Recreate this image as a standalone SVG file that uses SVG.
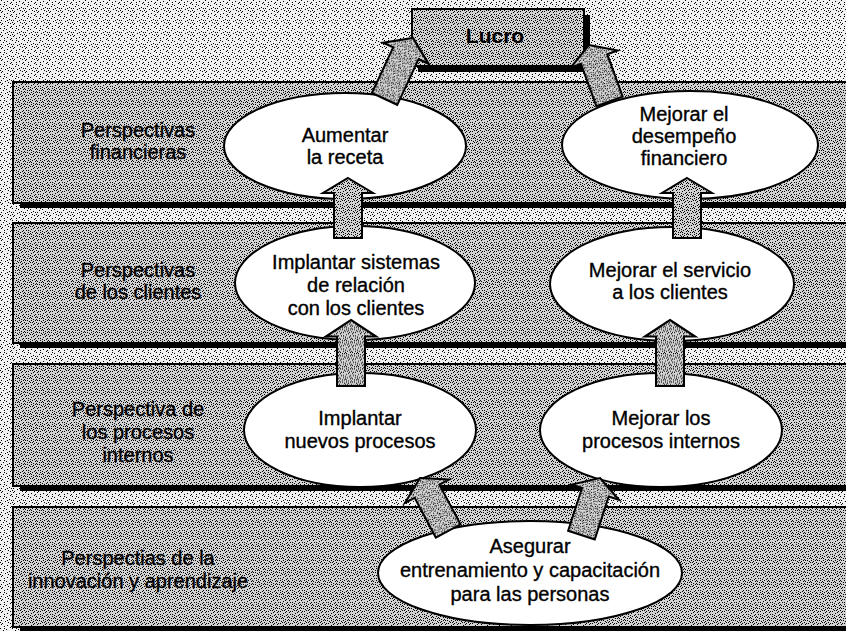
<svg xmlns="http://www.w3.org/2000/svg" width="846" height="631" viewBox="0 0 846 631">
<style>
.panel{fill:url(#dotsPanel);stroke:#000;stroke-width:2}
.shadow{fill:#000}
.node{fill:#fff;stroke:#000;stroke-width:2}
.arrow{fill:url(#dotsPanel);stroke:#000;stroke-width:2;stroke-linejoin:miter}
text{font-family:"Liberation Sans",Arial,sans-serif;font-size:20px;fill:#000;stroke:#000;stroke-width:0.35;text-anchor:middle}
.title{font-weight:bold;font-size:21px;stroke-width:0}
</style>
<defs>
<pattern id="dotsBg" width="12" height="12" patternUnits="userSpaceOnUse">
<rect width="12" height="12" fill="#f0f0f0"/>
<path fill="#000" d="M1 0h1v1h-1z M7 1h1v1h-1z M4 2h1v1h-1z M10 3h1v1h-1z M0 4h1v1h-1z M6 5h1v1h-1z M3 6h1v1h-1z M9 7h1v1h-1z M1 8h1v1h-1z M11 8h1v1h-1z M5 9h1v1h-1z M8 10h1v1h-1z M2 11h1v1h-1z M10 11h1v1h-1z M4 4h1v1h-1z M7 8h1v1h-1z M0 10h1v1h-1z M11 2h1v1h-1z"/>
</pattern>
<pattern id="dotsPanel" width="12" height="12" patternUnits="userSpaceOnUse">
<rect width="12" height="12" fill="#d2d2d2"/>
<path fill="#000" d="M1 0h1v1h-1z M7 1h1v1h-1z M4 2h1v1h-1z M10 3h1v1h-1z M0 4h1v1h-1z M6 5h1v1h-1z M3 6h1v1h-1z M9 7h1v1h-1z M1 8h1v1h-1z M11 8h1v1h-1z M5 9h1v1h-1z M8 10h1v1h-1z M2 11h1v1h-1z M10 11h1v1h-1z M4 4h1v1h-1z M7 8h1v1h-1z M0 10h1v1h-1z M11 2h1v1h-1z M9 0h1v1h-1z M2 2h1v1h-1z M6 3h1v1h-1z M8 4h1v1h-1z M1 5h1v1h-1z M11 5h1v1h-1z M5 6h1v1h-1z M7 6h1v1h-1z M0 7h1v1h-1z M3 8h1v1h-1z M9 9h1v1h-1z M6 10h1v1h-1z M4 11h1v1h-1z"/>
</pattern>
<path id="arr" d="M0,0 L25,15 L14,15 L14,60 L-14,60 L-14,15 L-25,15 Z"/>
</defs>
<rect x="0" y="0" width="846" height="631" fill="url(#dotsBg)"/>
<g id="panel-financieras">
<rect class="shadow" x="20" y="87" width="840" height="121"/>
<rect class="panel" x="13" y="82" width="845" height="121"/>
<text x="138" y="137">Perspectivas</text>
<text x="138" y="159">financieras</text>
</g>
<g id="panel-clientes">
<rect class="shadow" x="20" y="228" width="840" height="120"/>
<rect class="panel" x="13" y="223" width="845" height="120"/>
<text x="138" y="277">Perspectivas</text>
<text x="138" y="299">de los clientes</text>
</g>
<g id="panel-procesos">
<rect class="shadow" x="20" y="369" width="840" height="122"/>
<rect class="panel" x="13" y="364" width="845" height="122"/>
<text x="138" y="416">Perspectiva de</text>
<text x="138" y="439">los procesos</text>
<text x="138" y="462">internos</text>
</g>
<g id="panel-innovacion">
<rect class="shadow" x="20" y="512" width="840" height="120"/>
<rect class="panel" x="13" y="507" width="845" height="120"/>
<text x="138" y="565">Perspectias de la</text>
<text x="138" y="588">innovación y aprendizaje</text>
</g>
<g id="lucro">
<rect class="shadow" x="418" y="15" width="172" height="57"/>
<rect class="panel" x="412" y="9" width="172" height="57"/>
<text class="title" x="495" y="43">Lucro</text>
</g>
<g id="aumentar-receta">
<ellipse class="node" cx="345" cy="146" rx="121" ry="53"/>
<text x="345" y="142">Aumentar</text>
<text x="345" y="164">la receta</text>
</g>
<g id="mejorar-desempeno">
<ellipse class="node" cx="690" cy="145" rx="128" ry="54"/>
<text x="684" y="121">Mejorar el</text>
<text x="684" y="143">desempeño</text>
<text x="684" y="165">financiero</text>
</g>
<g id="implantar-sistemas">
<ellipse class="node" cx="355" cy="283" rx="120" ry="57"/>
<text x="356" y="269">Implantar sistemas</text>
<text x="356" y="292">de relación</text>
<text x="356" y="315">con los clientes</text>
</g>
<g id="mejorar-servicio">
<ellipse class="node" cx="672" cy="284" rx="122" ry="57"/>
<text x="670" y="277">Mejorar el servicio</text>
<text x="670" y="299">a los clientes</text>
</g>
<g id="implantar-procesos">
<ellipse class="node" cx="360" cy="430" rx="116" ry="57"/>
<text x="360" y="425">Implantar</text>
<text x="360" y="448">nuevos procesos</text>
</g>
<g id="mejorar-procesos">
<ellipse class="node" cx="661" cy="430" rx="121" ry="57"/>
<text x="661" y="425">Mejorar los</text>
<text x="661" y="448">procesos internos</text>
</g>
<g id="asegurar-entrenamiento">
<ellipse class="node" cx="530" cy="573" rx="152" ry="52"/>
<text x="530" y="553">Asegurar</text>
<text x="530" y="577">entrenamiento y capacitación</text>
<text x="530" y="601">para las personas</text>
</g>
<g id="connectors">
<use href="#arr" class="arrow" transform="translate(348,178)"/>
<use href="#arr" class="arrow" transform="translate(687,178)"/>
<use href="#arr" class="arrow" transform="translate(351,320) scale(1,1.1)"/>
<use href="#arr" class="arrow" transform="translate(670,320) scale(1,1.1)"/>
<use href="#arr" class="arrow" transform="translate(420,478) rotate(-28)"/>
<use href="#arr" class="arrow" transform="translate(600,478) rotate(18)"/>
<use href="#arr" class="arrow" transform="translate(413,38) rotate(25) scale(1,1.12)"/>
<use href="#arr" class="arrow" transform="translate(589,45) rotate(-20)"/>
</g>
</svg>
